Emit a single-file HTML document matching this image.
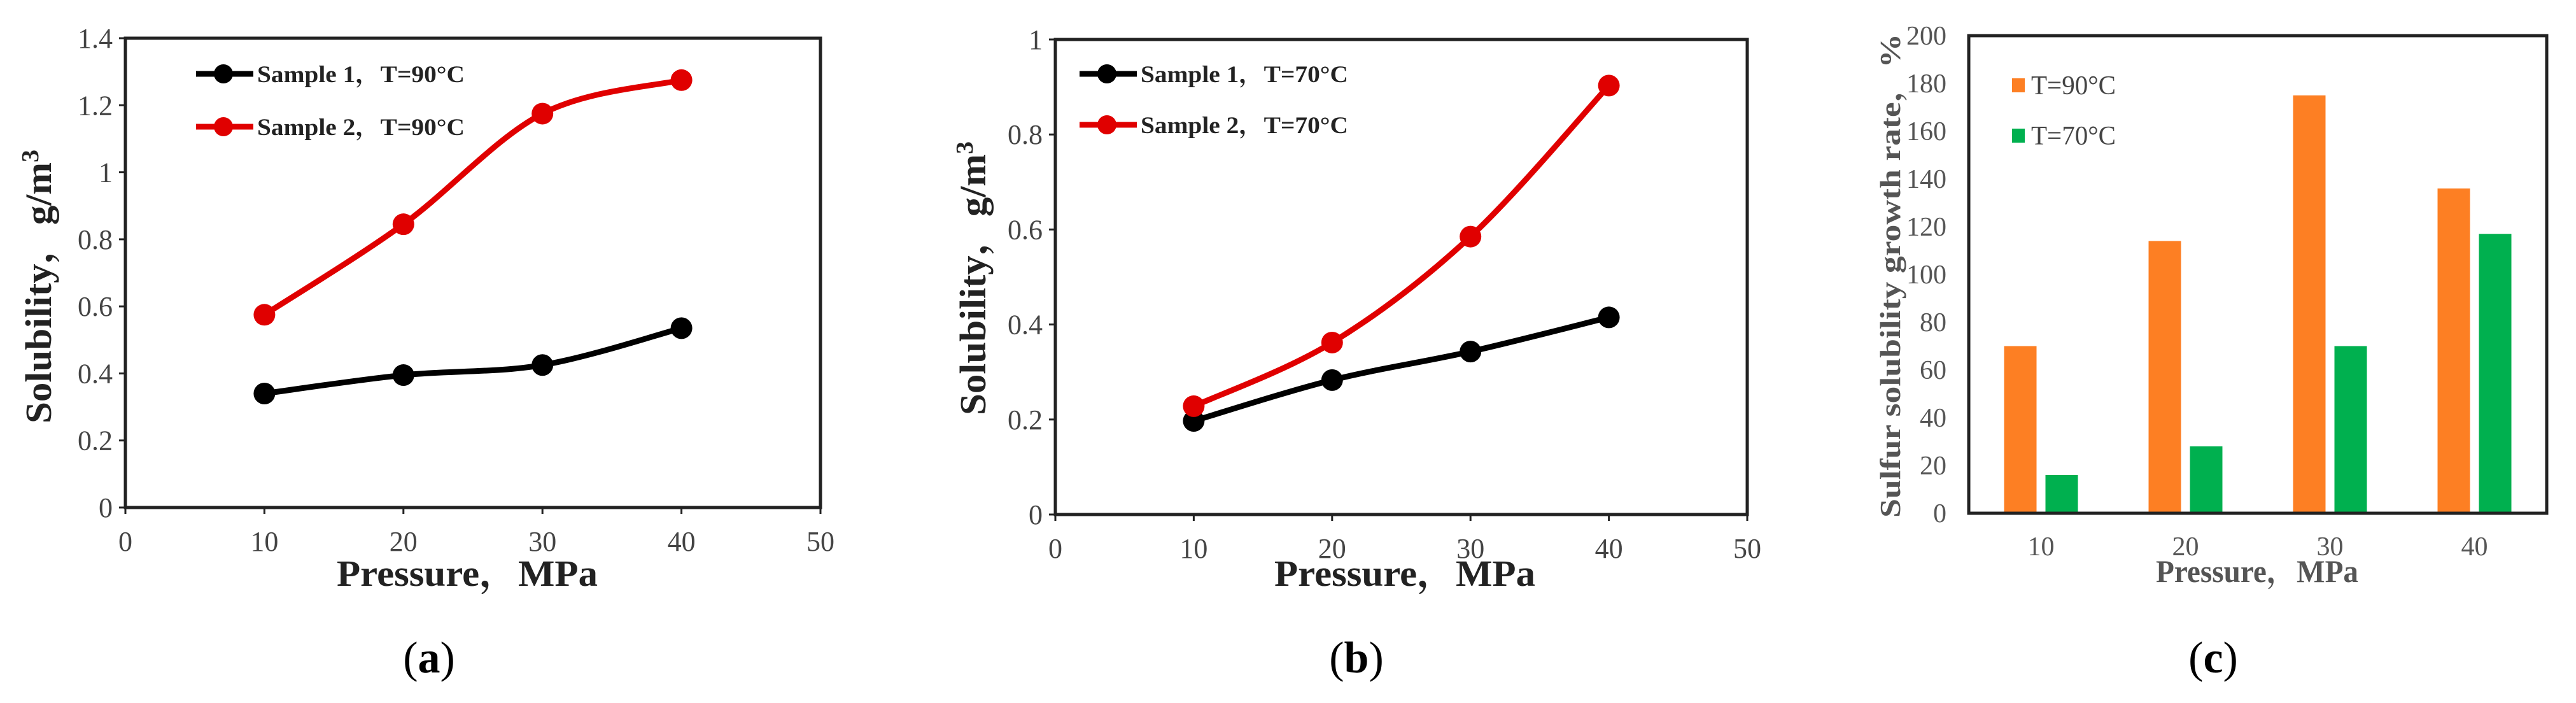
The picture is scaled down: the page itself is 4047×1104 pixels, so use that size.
<!DOCTYPE html>
<html><head><meta charset="utf-8"><style>
html,body{margin:0;padding:0;background:#fff;}
svg{display:block;font-family:"Liberation Serif","Noto Serif CJK SC",serif;}
</style></head><body>
<svg id="fig" width="4047" height="1104" viewBox="0 0 4047 1104" xmlns="http://www.w3.org/2000/svg"></svg>
<script>
const pressures = [10, 20, 30, 40];
const aSample1 = [0.34, 0.395, 0.425, 0.535];
const aSample2 = [0.575, 0.845, 1.175, 1.275];
const bSample1 = [0.197, 0.283, 0.343, 0.415];
const bSample2 = [0.228, 0.362, 0.585, 0.903];
const aYTicks = ["0", "0.2", "0.4", "0.6", "0.8", "1", "1.2", "1.4"];
const bYTicks = ["0", "0.2", "0.4", "0.6", "0.8", "1"];
const xTicks = ["0", "10", "20", "30", "40", "50"];
const cCategories = ["10", "20", "30", "40"];
const cT90 = [70, 114, 175, 136];
const cT70 = [16, 28, 70, 117];
const cYTicks = ["0","20","40","60","80","100","120","140","160","180","200"];

const NS = "http://www.w3.org/2000/svg";
const svg = document.getElementById('fig');
function el(tag, attrs, parent, text) {
  const e = document.createElementNS(NS, tag);
  for (const k in attrs) e.setAttribute(k, attrs[k]);
  if (text !== undefined) e.textContent = text;
  (parent || svg).appendChild(e);
  return e;
}
function smoothPath(pts) {
  let d = `M${pts[0][0]},${pts[0][1]}`;
  for (let i = 0; i < pts.length - 1; i++) {
    const p0 = pts[i - 1] || pts[i], p1 = pts[i], p2 = pts[i + 1], p3 = pts[i + 2] || p2;
    const c1x = p1[0] + (p2[0] - p0[0]) / 6, c1y = p1[1] + (p2[1] - p0[1]) / 6;
    const c2x = p2[0] - (p3[0] - p1[0]) / 6, c2y = p2[1] - (p3[1] - p1[1]) / 6;
    d += ` C${c1x},${c1y} ${c2x},${c2y} ${p2[0]},${p2[1]}`;
  }
  return d;
}

function lineChart(cfg) {
  const g = el('g', {});
  
  
  const {L, R, T, B, ymax} = cfg;
  const xs = v => L + (v / 50) * (R - L);
  const ys = v => B - (v / ymax) * (B - T);
  const frame = el('rect', {x: L, y: T, width: R - L, height: B - T, fill: 'none', stroke: '#222', 'stroke-width': 5}, g);
  
  
  cfg.yTicks.forEach(t => {
    const y = ys(parseFloat(t));
    const tk = el('line', {x1: L, x2: L - 10, y1: y, y2: y, stroke: '#222', 'stroke-width': 3}, g);
    
    
    const tl = el('text', {x: L - 20, y: y + 15, 'text-anchor': 'end', 'font-size': 44, fill: '#444'}, g, t);
    
    
  });
  xTicks.forEach(t => {
    const x = xs(parseFloat(t));
    const tk = el('line', {x1: x, x2: x, y1: B, y2: B + 10, stroke: '#222', 'stroke-width': 3}, g);
    
    
    const tl = el('text', {x: x, y: B + 68, 'text-anchor': 'middle', 'font-size': 44, fill: '#444'}, g, t);
    
    
  });
  const series = [[cfg.s1, '#000', 'sample-1'], [cfg.s2, '#e00000', 'sample-2']];
  series.forEach(([vals, col, nm]) => {
    const pts = pressures.map((p, i) => [xs(p), ys(vals[i])]);
    const path = el('path', {d: smoothPath(pts), fill: 'none', stroke: col, 'stroke-width': 9}, g);
    
    
    pts.forEach(p => {
      const c = el('circle', {cx: p[0], cy: p[1], r: 17, fill: col}, g);
      
      
    });
  });
  cfg.legend.forEach((lg, i) => {
    const y = cfg.legY[i];
    const ln = el('line', {x1: cfg.legX, x2: cfg.legX + 90, y1: y, y2: y, stroke: lg[1], 'stroke-width': 9}, g);
    
    
    const c = el('circle', {cx: cfg.legX + 43, cy: y, r: 15, fill: lg[1]}, g);
    
    
    const tx = el('text', {x: cfg.legX + 96, y: y + 13, 'font-size': 37, 'font-weight': 'bold', fill: '#222', textLength: 326, lengthAdjust: 'spacingAndGlyphs'}, g, lg[0]);
    
    
  });
  const xt = el('text', {x: cfg.xtX, y: 920, 'text-anchor': 'middle', 'font-size': 58, 'font-weight': 'bold', fill: '#222', textLength: 410, lengthAdjust: 'spacingAndGlyphs'}, g, 'Pressure，MPa');
  
  
  const yt = el('text', {x: 0, y: 0, 'text-anchor': 'middle', 'font-size': 58, 'font-weight': 'bold', fill: '#222', textLength: 430, lengthAdjust: 'spacingAndGlyphs', transform: `translate(${cfg.ytX},${cfg.ytY}) rotate(-90)`}, g);
  
  
  yt.appendChild(document.createTextNode('Solubility，g/m'));
  el('tspan', {dy: -20, 'font-size': 38}, yt, '3');
  const cap = el('text', {x: cfg.capX, y: 1056, 'text-anchor': 'middle', 'font-size': 70, fill: '#000'}, g);
  
  
  cap.appendChild(document.createTextNode('('));
  el('tspan', {'font-weight': 'bold'}, cap, cfg.cap);
  cap.appendChild(document.createTextNode(')'));
}

lineChart({name: 'chart-a', L: 197, R: 1289, T: 60, B: 797, ymax: 1.4, yTicks: aYTicks, s1: aSample1, s2: aSample2,
  legend: [['Sample 1，T=90°C', '#000'], ['Sample 2，T=90°C', '#e00000']], legX: 308, legY: [116, 199],
  xtX: 734, ytX: 80, ytY: 450, capX: 674, cap: 'a'});
lineChart({name: 'chart-b', L: 1658, R: 2745, T: 62, B: 808, ymax: 1, yTicks: bYTicks, s1: bSample1, s2: bSample2,
  legend: [['Sample 1，T=70°C', '#000'], ['Sample 2，T=70°C', '#e00000']], legX: 1696, legY: [116, 196],
  xtX: 2207, ytX: 1548, ytY: 437, capX: 2131, cap: 'b'});

// Chart c
(function () {
  const g = el('g', {});
  
  
  const L = 3093, R = 4001, T = 56, B = 806, ymax = 200;
  const ys = v => B - (v / ymax) * (B - T);
  const band = (R - L) / cCategories.length;
  const bw = 51;
  const frame = el('rect', {x: L, y: T, width: R - L, height: B - T, fill: 'none', stroke: '#222', 'stroke-width': 5}, g);
  
  
  cYTicks.forEach(t => {
    const y = ys(parseFloat(t));
    const tl = el('text', {x: 3058, y: y + 14, 'text-anchor': 'end', 'font-size': 42, fill: '#555'}, g, t);
    
    
  });
  cCategories.forEach((c, i) => {
    const cx = L + (i + 0.5) * band;
    const b1 = el('rect', {x: cx - 58, y: ys(cT90[i]), width: bw, height: B - ys(cT90[i]), fill: '#fd7f23'}, g);
    
    
    const b2 = el('rect', {x: cx + 7, y: ys(cT70[i]), width: bw, height: B - ys(cT70[i]), fill: '#00b04f'}, g);
    
    
    const tl = el('text', {x: cx, y: 872, 'text-anchor': 'middle', 'font-size': 42, fill: '#555'}, g, c);
    
    
  });
  const axis = el('line', {x1: L, x2: R, y1: B, y2: B, stroke: '#222', 'stroke-width': 5}, g);
  
  
  [['T=90°C', '#fd7f23', 123], ['T=70°C', '#00b04f', 202]].forEach(([t, col, y]) => {
    const sw = el('rect', {x: 3161, y: y, width: 20, height: 22, fill: col}, g);
    
    
    const tx = el('text', {x: 3191, y: y + 25, 'font-size': 42, fill: '#444', textLength: 133, lengthAdjust: 'spacingAndGlyphs'}, g, t);
    
    
  });
  const xt = el('text', {x: 3546, y: 914, 'text-anchor': 'middle', 'font-size': 50, 'font-weight': 'bold', fill: '#555', textLength: 318, lengthAdjust: 'spacingAndGlyphs'}, g, 'Pressure，MPa');
  
  
  const yt = el('text', {x: 0, y: 0, 'text-anchor': 'middle', 'font-size': 46, 'font-weight': 'bold', fill: '#555', textLength: 760, lengthAdjust: 'spacingAndGlyphs', transform: 'translate(2985,433) rotate(-90)'}, g, 'Sulfur solubility growth rate，%');
  
  
  const cap = el('text', {x: 3477, y: 1056, 'text-anchor': 'middle', 'font-size': 70, fill: '#000'}, g);
  
  
  cap.appendChild(document.createTextNode('('));
  el('tspan', {'font-weight': 'bold'}, cap, 'c');
  cap.appendChild(document.createTextNode(')'));
})();
</script>
</body></html>
